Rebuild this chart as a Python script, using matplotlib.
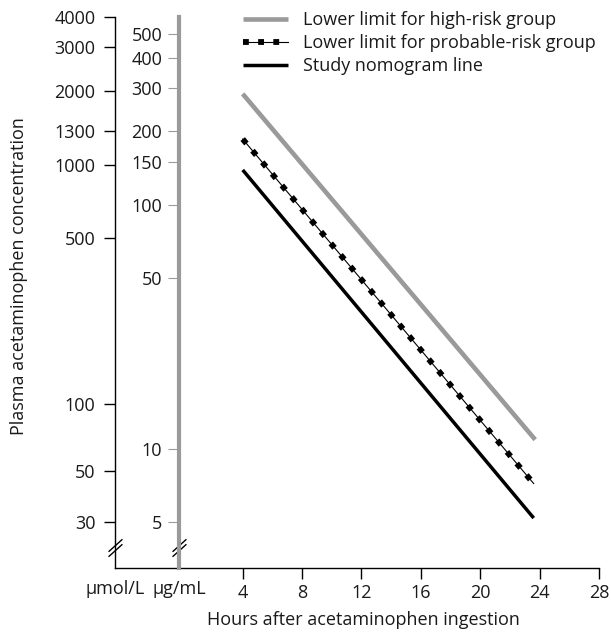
import matplotlib as mpl
mpl.use('Agg')
import matplotlib.pyplot as plt
from matplotlib.legend_handler import HandlerTuple

plt.rcParams['font.family'] = ['Open Sans', 'DejaVu Sans']
plt.rcParams['font.size'] = 13

# hours after ingestion and concentration (µg/mL) at each end of the lines
hours_high = [4, 23.7]
conc_high = [285, 10.9]
hours_prob = [4, 23.6]
conc_prob = [186, 7.2]
hours_study = [4, 23.6]
conc_study = [139, 5.2]

x_ticks = [4, 8, 12, 16, 20, 24, 28]
ugml_ticks = [5, 10, 50, 100, 150, 200, 300, 400, 500]
# µmol/L labels and the µg/mL height they sit at on the chart
umol_labels = ['30', '50', '100', '500', '1000', '1300', '2000', '3000', '4000']
umol_at_ugml = [5.0, 8.1, 15.3, 73, 145, 200, 294, 445, 587]

text_col = '#1a1a1a'
gray = '#9a9a9a'

fig = plt.figure(figsize=(6.11, 6.34), dpi=100)
ax = fig.add_axes([0.1882, 0.1046, 0.7922, 0.8681])
ax.set_yscale('log')
ax.set_xlim(-4.6, 28)
ax.set_ylim(3.255, 587)

# lines
l1, = ax.plot(hours_high, conc_high, color=gray, lw=3.3, solid_capstyle='butt')
l2a, = ax.plot(hours_prob, conc_prob, color='black', lw=0.8)
l2b, = ax.plot(hours_prob, conc_prob, color='black', lw=4.2, dashes=(1.0, 1.6))
l3, = ax.plot(hours_study, conc_study, color='black', lw=2.5, solid_capstyle='butt')

# left axis: µmol/L
for s in ['top', 'right']:
    ax.spines[s].set_visible(False)
ax.spines['left'].set_linewidth(1.0)
ax.spines['bottom'].set_linewidth(1.0)
ax.set_yticks(umol_at_ugml)
ax.set_yticklabels(umol_labels)
ax.yaxis.set_minor_locator(mpl.ticker.NullLocator())
ax.tick_params(axis='y', length=8, width=1, pad=6, labelcolor=text_col, labelsize=13)
ax.set_xticks(x_ticks)
ax.set_xticklabels([str(t) for t in x_ticks])
ax.tick_params(axis='x', length=8, width=1, pad=4, labelcolor=text_col, labelsize=13)

# second axis: µg/mL, gray spine
ax2 = ax.twinx()
ax2.set_yscale('log')
ax2.set_ylim(ax.get_ylim())
ax2.spines['left'].set_position(('data', -0.3))
ax2.spines['left'].set_visible(True)
ax2.spines['left'].set_color(gray)
ax2.spines['left'].set_linewidth(3)
for s in ['top', 'right', 'bottom']:
    ax2.spines[s].set_visible(False)
ax2.yaxis.set_ticks_position('left')
ax2.set_yticks(ugml_ticks)
ax2.set_yticklabels([str(t) for t in ugml_ticks])
ax2.yaxis.set_minor_locator(mpl.ticker.NullLocator())
ax2.tick_params(axis='y', length=8, width=0.8, color=gray, pad=4,
                labelcolor=text_col, labelsize=13)

# axis break marks
for xb in [-4.6, -0.3]:
    for dy in [-2.0, 2.0]:
        ax.plot([xb], [3.93], marker=[(-1, -0.9), (1, 0.9)], ms=10,
                mew=1, color='black', transform=ax.transData +
                mpl.transforms.ScaledTranslation(0, dy / 72, fig.dpi_scale_trans),
                clip_on=False)

# unit labels under the axes
xt = ax.get_xaxis_transform()
ax.text(-4.6, -0.022, 'μmol/L', transform=xt, ha='center', va='top',
        color=text_col, fontsize=13)
ax.text(-0.3, -0.022, 'μg/mL', transform=xt, ha='center', va='top',
        color=text_col, fontsize=13)

fig.text(363 / 611, 1 - 620 / 634, 'Hours after acetaminophen ingestion',
         ha='center', va='center', color=text_col, fontsize=13)
fig.text(19 / 611, 1 - 276 / 634, 'Plasma acetaminophen concentration',
         ha='center', va='center', rotation=90, color=text_col, fontsize=13)

fig.legend([l1, (l2a, l2b), l3],
           ['Lower limit for high-risk group',
            'Lower limit for probable-risk group',
            'Study nomogram line'],
           handler_map={tuple: HandlerTuple(ndivide=1, pad=0)},
           loc='upper left', bbox_to_anchor=(243 / 611, 1 - 11 / 634),
           frameon=False, borderpad=0, borderaxespad=0,
           handlelength=2.5, handletextpad=0.85, labelspacing=0.28,
           labelcolor=text_col, fontsize=13)

plt.savefig('out.png', dpi=100)
plt.close()
